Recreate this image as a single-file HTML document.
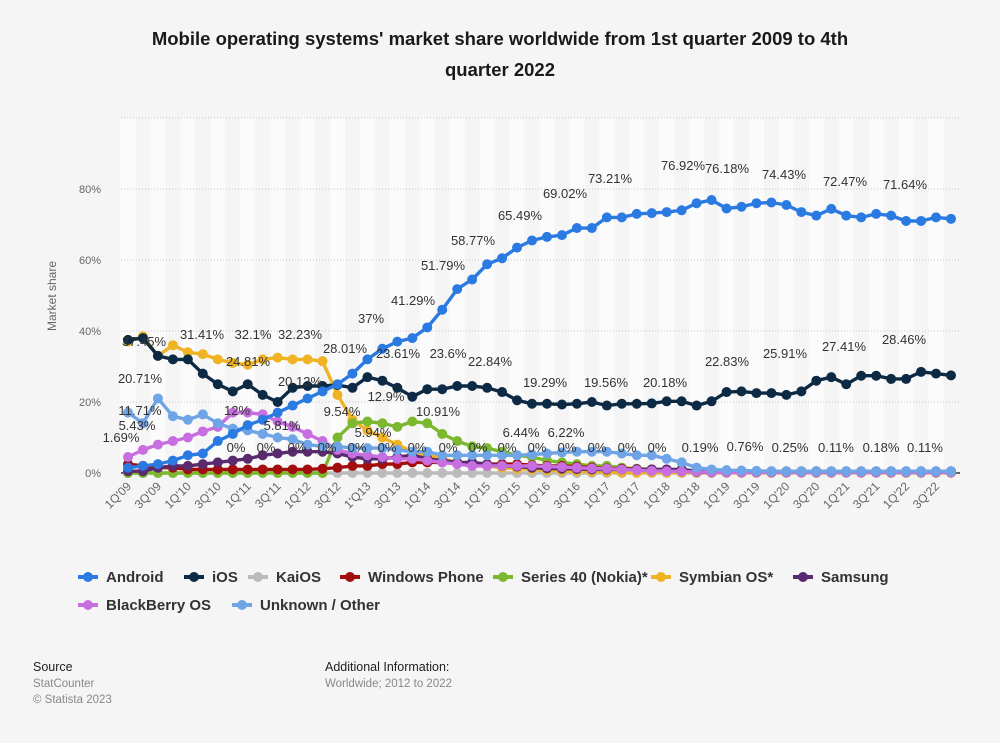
<!DOCTYPE html>
<html><head><meta charset="utf-8"><style>
html,body{margin:0;padding:0;background:#f5f5f5;}
body{width:1000px;height:743px;overflow:hidden;font-family:"Liberation Sans",Arial,sans-serif;}
</style></head><body>
<svg id="c" width="1000" height="743" xmlns="http://www.w3.org/2000/svg" style="position:absolute;left:0;top:0;font-family:'Liberation Sans',Arial,sans-serif">
<rect width="1000" height="743" fill="#f5f5f5"/>
<text x="500" y="45" text-anchor="middle" font-size="18.5" font-weight="bold" fill="#1a1a1a">Mobile operating systems' market share worldwide from 1st quarter 2009 to 4th</text>
<text x="500" y="76" text-anchor="middle" font-size="18.5" font-weight="bold" fill="#1a1a1a">quarter 2022</text>
<g id="stripes"></g>
<g id="grid"></g>
<text transform="translate(56,296) rotate(-90)" text-anchor="middle" font-size="12" fill="#666">Market share</text>
<g id="series"></g>
<g id="labels" font-size="13" fill="#333" text-anchor="middle"></g>
<g id="xl" font-size="12" fill="#666"></g>
<g id="legend" font-size="15" font-weight="bold" fill="#333"></g>
<text x="33" y="671" font-size="12.5" fill="#222">Source</text>
<text x="33" y="687" font-size="11.5" fill="#888">StatCounter</text>
<text x="33" y="703" font-size="11.5" fill="#888">© Statista 2023</text>
<text x="325" y="671" font-size="12.5" fill="#222">Additional Information:</text>
<text x="325" y="687" font-size="11.5" fill="#888">Worldwide; 2012 to 2022</text>
</svg>
<script>
var NS="http://www.w3.org/2000/svg";
function el(t,a,p,txt){var e=document.createElementNS(NS,t);for(var k in a)e.setAttribute(k,a[k]);if(txt!=null)e.textContent=txt;document.getElementById(p).appendChild(e);return e;}
var x0=128,dx=(951-128)/55;function X(i){return x0+i*dx;}function Y(v){return 473-v*3.55;}
for(var i=0;i<56;i+=2){el('rect',{x:X(i)-dx/2,y:118,width:dx,height:355,fill:'#fbfbfb'},'stripes');}
[20,40,60,80,100].forEach(function(v){el('line',{x1:121,x2:960,y1:Y(v),y2:Y(v),stroke:'#c8c8c8','stroke-dasharray':'1,2'},'grid');});
[0,20,40,60,80].forEach(function(v){el('text',{x:101,y:Y(v)+4,'text-anchor':'end','font-size':11,fill:'#666'},'grid',v+'%');});
el('line',{x1:121,x2:960,y1:473,y2:473,stroke:'#333','stroke-width':1.5},'grid');
function fill(arr,n,v){while(arr.length<n)arr.push(v);return arr;}
var S=[
['KaiOS','#bbbbbb',fill([],56,0)],
['Symbian OS*','#f0b323',fill([37,38.5,33,36,34,33.5,32,31,30.5,32,32.5,32,32,31.5,22,15,12,10,8,6,5,4,3,2.5,2,1.5,1.2,1,0.8,0.6,0.5,0.4,0.3],56,0.1)],
['Series 40 (Nokia)*','#7cb82f',fill([0,0,0,0,0,0,0,0,0,0,0,0,0,0,10,14,14.5,14,13,14.5,14,11,9,7.5,7,6,5,4.5,3.5,3,2.5,2,2,1.5,1.2,1,0.8,0.5],56,0.2)],
['Windows Phone','#a30d0d',fill([2.5,2,1.5,1.5,1,1,1,1,1,1,1,1,1,1.2,1.5,2,2,2.5,2.5,3,3,3,2.8,2.5,2.5,2.5,2.5,2.2,2,2,1.8,1.5,1.3,1.2,1.1,1,1,0.5,0.3],56,0.2)],
['Samsung','#5a2a6e',fill([0.5,0.5,1.5,2,2,2.5,3,3.5,4,5,5.5,6,6,6,5.5,4.5,4,4,4.5,5,4,3.5,3,3,2.5,2,1.8,1.5,1.3,1.2,1.1,1,1,1,1,1,1,1],56,0.5)],
['BlackBerry OS','#c76ee0',fill([4.5,6.5,8,9,10,11.7,13,17,17,16.5,14.5,13,11,9,6.5,5.5,5,4.5,4,4,3.5,3,2.5,2,2,2,2,2,1.8,1.7,1.5,1.3,1.2,1,0.8,0.6,0.5,0.4,0.3,0.2],56,0.2)],
['Unknown / Other','#6fa5e6',fill([17,14,21,16,15,16.5,14,12.5,12,11,10,9.5,8,7.5,7.5,7,7,7,6.5,6,6,5,5,5,5,5,5,5.2,5.5,5.8,6,6,6,5.5,5,5,4,3,1.5,1,0.8,0.7,0.6,0.5],56,0.5)],
['iOS','#0d2a45',[37.5,38,33,32,32,28,25,23,25,22,20,24,24.5,24.5,24.8,24,27,26,24,21.5,23.6,23.6,24.5,24.5,24,22.8,20.5,19.5,19.5,19.3,19.5,20,19,19.5,19.5,19.6,20.2,20.2,19,20.2,22.8,23,22.5,22.5,22,23,26,27,25,27.4,27.4,26.5,26.5,28.5,28,27.5]],
['Android','#2a7ae2',[1.5,2,2.5,3.5,5,5.5,9,11,13.5,15,17,19,21,23,25,28,32,35,37,38,41,46,51.8,54.5,58.8,60.5,63.5,65.5,66.5,67,69,69,72,72,73,73.2,73.5,74,76,76.9,74.5,75,76,76.2,75.5,73.5,72.5,74.4,72.5,72,73,72.5,71,71,72,71.6]]
];
S.forEach(function(s){var d='';s[2].forEach(function(v,i){d+=(i?'L':'M')+X(i).toFixed(1)+','+Y(v).toFixed(1);});
el('path',{d:d,fill:'none',stroke:s[1],'stroke-width':3.4,'stroke-linejoin':'round'},'series');
s[2].forEach(function(v,i){el('circle',{cx:X(i),cy:Y(v),r:5,fill:s[1]},'series');});});
var L=[[144,346,'37.45%'],[202,339,'31.41%'],[253,339,'32.1%'],[300,339,'32.23%'],[345,353,'28.01%'],[371,323,'37%'],[413,305,'41.29%'],[443,270,'51.79%'],[473,245,'58.77%'],[520,220,'65.49%'],[565,198,'69.02%'],[610,183,'73.21%'],[683,170,'76.92%'],[727,173,'76.18%'],[784,179,'74.43%'],[845,186,'72.47%'],[905,189,'71.64%'],
[140,383,'20.71%'],[248,366,'24.81%'],[300,386,'20.13%'],[398,358,'23.61%'],[448,358,'23.6%'],[490,366,'22.84%'],[545,387,'19.29%'],[606,387,'19.56%'],[665,387,'20.18%'],[727,366,'22.83%'],[785,358,'25.91%'],[844,351,'27.41%'],[904,344,'28.46%'],
[342,416,'9.54%'],[386,401,'12.9%'],[438,416,'10.91%'],[140,415,'11.71%'],[237,415,'12%'],[137,430,'5.43%'],[282,430,'5.81%'],[121,442,'1.69%'],[373,437,'5.94%'],[521,437,'6.44%'],[566,437,'6.22%'],
[700,452,'0.19%'],[745,451,'0.76%'],[790,452,'0.25%'],[836,452,'0.11%'],[881,452,'0.18%'],[925,452,'0.11%']];
[236,266,297,327,357,387,417,448,478,507,537,567,597,627,657].forEach(function(x){L.push([x,452,'0%']);});
L.forEach(function(l){el('text',{x:l[0],y:l[1]},'labels',l[2]);});
var q=[];for(var y=9;y<=22;y++){var yy=(y<10?'0':'')+y;q.push('1Q\''+yy);q.push('3Q\''+yy);}
q[8]="1'Q13";
q.forEach(function(t,k){var i=k*2,x=X(i)+4;el('text',{x:x,y:487,'text-anchor':'end',transform:'rotate(-45 '+x+' 487)'},'xl',t);});
var lg=[[88,577,'#2a7ae2','Android'],[194,577,'#0d2a45','iOS'],[258,577,'#bbbbbb','KaiOS'],[350,577,'#a30d0d','Windows Phone'],[503,577,'#7cb82f','Series 40 (Nokia)*'],[661,577,'#f0b323','Symbian OS*'],[803,577,'#5a2a6e','Samsung'],[88,605,'#c76ee0','BlackBerry OS'],[242,605,'#6fa5e6','Unknown / Other']];
lg.forEach(function(g){el('line',{x1:g[0]-10,x2:g[0]+10,y1:g[1],y2:g[1],stroke:g[2],'stroke-width':4},'legend');el('circle',{cx:g[0],cy:g[1],r:5,fill:g[2]},'legend');el('text',{x:g[0]+18,y:g[1]+5},'legend',g[3]);});
</script>
</body></html>
